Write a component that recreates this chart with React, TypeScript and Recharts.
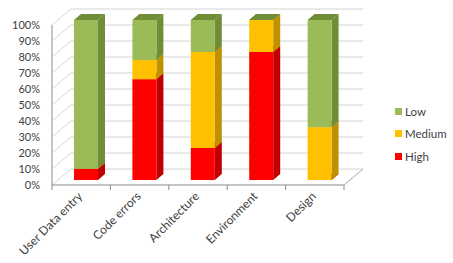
import { Bar, BarChart, CartesianGrid, XAxis, YAxis } from 'recharts'

const categories = ['User Data entry', 'Code errors', 'Architecture', 'Environment', 'Design']
const high = [7, 63, 20, 80, 0]
const medium = [0, 12, 60, 20, 33]
const low = [93, 25, 20, 0, 67]
const yTicks = [0, 10, 20, 30, 40, 50, 60, 70, 80, 90, 100]

const data = categories.map((name, i) => ({ name, High: high[i], Medium: medium[i], Low: low[i] }))

const series = [
  { key: 'High', face: '#ff0000', dark: '#c00000' },
  { key: 'Medium', face: '#ffc000', dark: '#bf9000' },
  { key: 'Low', face: '#9bbb59', dark: '#6f8d36' },
]

const FONT = 'Lato, "Open Sans", sans-serif'
const TEXT = '#404040'
const WALL_DX = 19
const WALL_DY = 16
const BAR_DX = 7
const BAR_DY = 6
const HALF_BAND = 292 / 5 / 2

const Box = (p: any) => {
  const { x, y, width: w, height: h, face, dark } = p
  if (x == null || y == null) return null
  const fx = x + 5
  const fy = y - 5
  return (
    <g>
      <polygon
        points={`${fx},${fy} ${fx + w},${fy} ${fx + w + BAR_DX},${fy - BAR_DY} ${fx + BAR_DX},${fy - BAR_DY}`}
        fill={dark}
      />
      <polygon
        points={`${fx + w},${fy} ${fx + w + BAR_DX},${fy - BAR_DY} ${fx + w + BAR_DX},${fy + h - BAR_DY} ${fx + w},${fy + h}`}
        fill={dark}
      />
      <rect x={fx} y={fy} width={w} height={h} fill={face} />
    </g>
  )
}

const gridLine = (p: any) => {
  const bottom = p.height != null && p.y != null ? Math.abs(p.y1 - (p.y + p.height)) < 1 : p.index === 0
  return (
    <g key={p.key ?? p.index}>
      <line x1={p.x1} y1={p.y1} x2={p.x1 + WALL_DX} y2={p.y1 - WALL_DY} stroke="#d9d9d9" />
      <line x1={p.x1 + WALL_DX} y1={p.y1 - WALL_DY} x2={p.x2 + WALL_DX} y2={p.y2 - WALL_DY} stroke="#d4d4d4" />
      {bottom && <line x1={p.x2} y1={p.y2} x2={p.x2 + WALL_DX} y2={p.y2 - WALL_DY} stroke="#a6a6a6" />}
    </g>
  )
}

const YTick = ({ y, payload }: any) => (
  <text x={40} y={y + 4} textAnchor="end" fontSize={11} fill={TEXT} fontFamily={FONT}>
    {payload.value}%
  </text>
)

const XTick = ({ x, y, payload, index }: any) => {
  const top = y - 8
  return (
    <g>
      <line x1={x - HALF_BAND} y1={top} x2={x - HALF_BAND} y2={top + 5} stroke="#8c8c8c" />
      {index === categories.length - 1 && (
        <line x1={x + HALF_BAND} y1={top} x2={x + HALF_BAND} y2={top + 5} stroke="#8c8c8c" />
      )}
      <text
        x={x + 2}
        y={top + 12}
        textAnchor="end"
        fontSize={12}
        fill={TEXT}
        fontFamily={FONT}
        transform={`rotate(-45 ${x + 2} ${top + 12})`}
      >
        {payload.value}
      </text>
    </g>
  )
}

export default function App() {
  return (
    <div style={{ position: 'absolute', left: 0, top: 0, width: 453, height: 263, background: '#fff' }}>
      <BarChart
        width={453}
        height={263}
        data={data}
        margin={{ top: 25, right: 109, bottom: 0, left: 0 }}
      >
        <CartesianGrid vertical={false} horizontal={gridLine} />
        <XAxis
          dataKey="name"
          height={78}
          interval={0}
          tickLine={false}
          axisLine={{ stroke: '#8c8c8c' }}
          tick={<XTick />}
        />
        <YAxis
          width={52}
          domain={[0, 100]}
          ticks={yTicks}
          interval={0}
          tickLine={false}
          axisLine={{ stroke: '#8c8c8c' }}
          tick={<YTick />}
        />
        {series.map((s) => (
          <Bar
            key={s.key}
            dataKey={s.key}
            stackId="a"
            fill={s.face}
            barSize={24}
            isAnimationActive={false}
            shape={(p: any) => <Box {...p} face={s.face} dark={s.dark} />}
          />
        ))}
      </BarChart>
      <div
        style={{
          position: 'absolute',
          left: 395,
          top: 100,
          fontFamily: FONT,
          fontSize: 11.5,
          color: TEXT,
        }}
      >
        {[...series].reverse().map((s) => (
          <div key={s.key} style={{ display: 'flex', alignItems: 'center', height: 22.5 }}>
            <span style={{ width: 7, height: 7, background: s.face, marginRight: 3 }} />
            <span>{s.key}</span>
          </div>
        ))}
      </div>
    </div>
  )
}
